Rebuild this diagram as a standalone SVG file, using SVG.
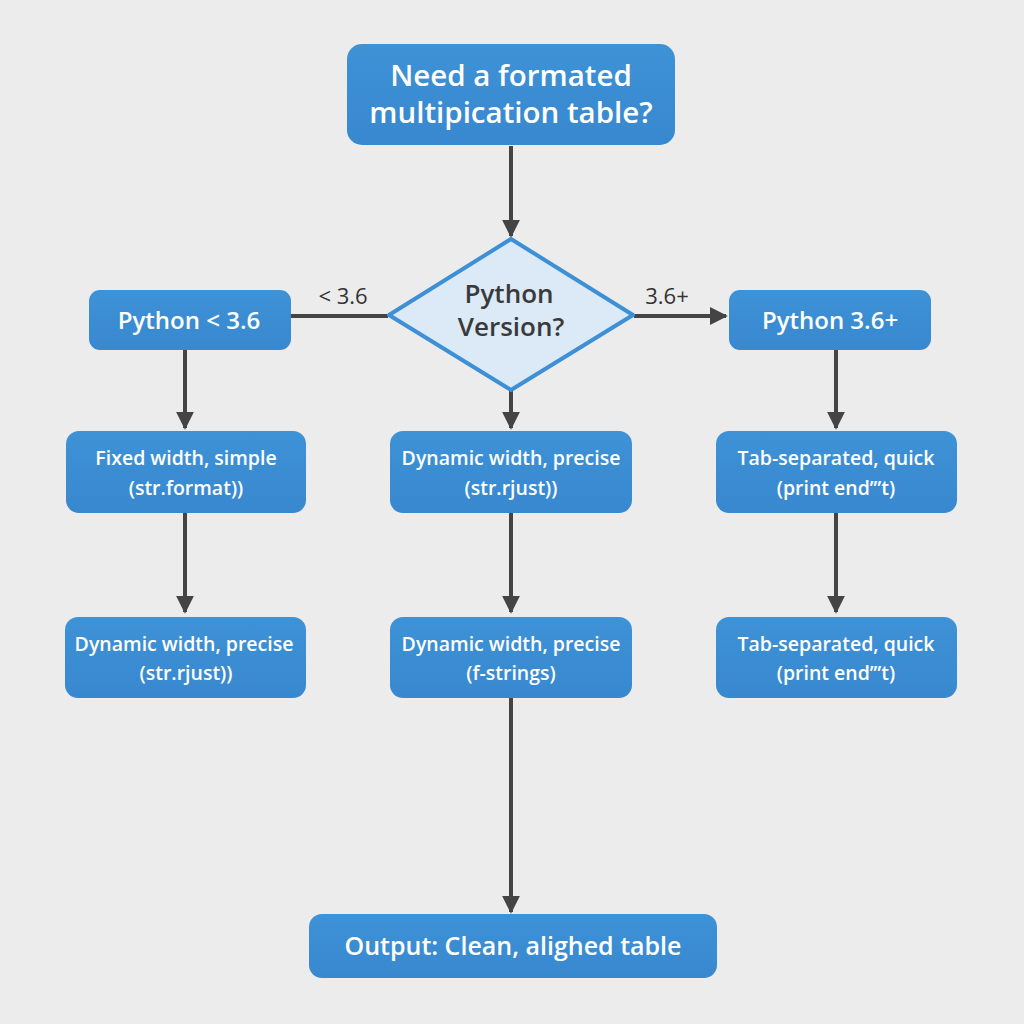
<svg xmlns="http://www.w3.org/2000/svg" width="1024" height="1024" viewBox="0 0 1024 1024">
<defs>
<linearGradient id="bg" x1="0" y1="0" x2="0" y2="1"><stop offset="0" stop-color="#3e92d6"/><stop offset="1" stop-color="#3888cf"/></linearGradient>
<marker id="ah" viewBox="0 0 10 10" refX="9" refY="5" markerWidth="4.5" markerHeight="4.5" orient="auto" markerUnits="strokeWidth"><path d="M0,0 L10,5 L0,10 z" fill="#444"/></marker>
<style>
.box{fill:url(#bg);}
.t{font-family:"Open Sans","Liberation Sans",sans-serif;font-weight:600;fill:#fff;text-anchor:middle;}
.big{font-size:29.5px;}
.mid{font-size:24px;}
.sm{font-size:19.5px;}
.lbl{font-family:"Open Sans","Liberation Sans",sans-serif;font-size:22px;fill:#333;text-anchor:middle;}
.c{stroke:#444;stroke-width:4;fill:none;}
.ca{stroke:#444;stroke-width:4;fill:none;marker-end:url(#ah);}
</style>
</defs>
<rect width="1024" height="1024" fill="#ececec"/>
<g id="connectors">
<path class="ca" d="M511,146 V236"/>
<path class="c" d="M388,316 H291"/>
<text class="lbl" x="343" y="304">&lt; 3.6</text>
<path class="ca" d="M634,316 H726"/>
<text class="lbl" x="667" y="304">3.6+</text>
<path class="ca" d="M185,350 V428"/>
<path class="ca" d="M511,391 V428"/>
<path class="ca" d="M836,350 V428"/>
<path class="ca" d="M185,513 V612"/>
<path class="ca" d="M511,513 V612"/>
<path class="ca" d="M836,513 V612"/>
<path class="ca" d="M511,698 V912"/>
</g>
<g id="start">
<rect class="box" x="347" y="44" width="328" height="101" rx="15"/>
<text class="t big" x="511" y="86">Need a formated</text>
<text class="t big" x="511" y="123">multipication table?</text>
</g>
<g id="decision">
<polygon points="511,239 633,315 511,390 389,315" fill="#dce9f7" stroke="#3d8fd6" stroke-width="4" stroke-linejoin="round"/>
<text class="t" x="509" y="303" style="font-size:26px;fill:#3a3a3a">Python</text>
<text class="t" x="511" y="336" style="font-size:26px;fill:#3a3a3a">Version?</text>
</g>
<g id="py-old">
<rect class="box" x="89" y="290" width="202" height="60" rx="11"/>
<text class="t mid" x="189" y="329">Python &lt; 3.6</text>
</g>
<g id="py-new">
<rect class="box" x="729" y="290" width="202" height="60" rx="11"/>
<text class="t mid" x="830" y="329">Python 3.6+</text>
</g>
<g id="l1">
<rect class="box" x="66" y="431" width="240" height="82" rx="13"/>
<text class="t sm" x="186" y="465">Fixed width, simple</text>
<text class="t sm" x="186" y="495">(str.format))</text>
</g>
<g id="l2">
<rect class="box" x="65" y="617" width="241" height="81" rx="13"/>
<text class="t sm" x="184" y="651">Dynamic width, precise</text>
<text class="t sm" x="186" y="680">(str.rjust))</text>
</g>
<g id="m1">
<rect class="box" x="390" y="431" width="242" height="82" rx="13"/>
<text class="t sm" x="511" y="465">Dynamic width, precise</text>
<text class="t sm" x="511" y="495">(str.rjust))</text>
</g>
<g id="m2">
<rect class="box" x="390" y="617" width="242" height="81" rx="13"/>
<text class="t sm" x="511" y="651">Dynamic width, precise</text>
<text class="t sm" x="511" y="680">(f-strings)</text>
</g>
<g id="r1">
<rect class="box" x="716" y="431" width="241" height="82" rx="13"/>
<text class="t sm" x="836" y="465">Tab-separated, quick</text>
<text class="t sm" x="836" y="495">(print end’”t)</text>
</g>
<g id="r2">
<rect class="box" x="716" y="617" width="241" height="81" rx="13"/>
<text class="t sm" x="836" y="651">Tab-separated, quick</text>
<text class="t sm" x="836" y="680">(print end’”t)</text>
</g>
<g id="output">
<rect class="box" x="309" y="914" width="408" height="64" rx="13"/>
<text class="t" x="513" y="955" style="font-size:25px">Output: Clean, alighed table</text>
</g>
</svg>
